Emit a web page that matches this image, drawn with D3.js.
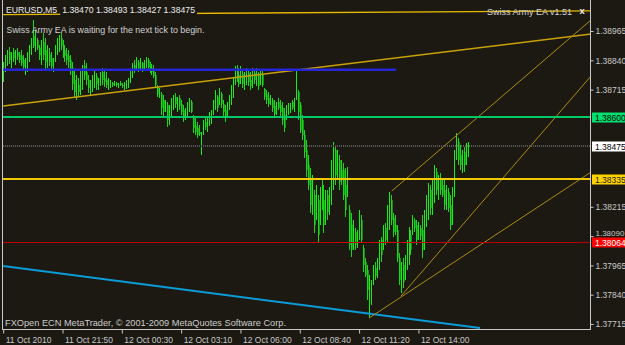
<!DOCTYPE html>
<html><head><meta charset="utf-8">
<script src="https://cdn.jsdelivr.net/npm/d3@7"></script>
<style>
html,body{margin:0;padding:0;background:#1c1912;overflow:hidden;}
svg{display:block;}
text{font-family:"Liberation Sans",Arial,sans-serif;}
</style></head><body>
<svg id="c" width="625" height="345"></svg>
<script>
// ---- DATA (EURUSD M5) ----
const opens=[
1.38764,1.38807,1.38832,1.38875,1.38824,1.38875,1.38841,1.38875,1.38862,1.38858,
1.38841,1.38798,1.38815,1.38850,1.38884,1.38943,1.38901,1.38926,1.38892,1.38850,
1.38918,1.38884,1.38832,1.38867,1.38850,1.38807,1.38850,1.38884,1.38905,1.38935,
1.38905,1.38884,1.38867,1.38858,1.38841,1.38807,1.38756,1.38705,1.38734,1.38713,
1.38764,1.38815,1.38790,1.38756,1.38722,1.38730,1.38756,1.38773,1.38734,1.38756,
1.38790,1.38764,1.38756,1.38730,1.38730,1.38743,1.38734,1.38743,1.38730,1.38743,
1.38734,1.38726,1.38734,1.38743,1.38756,1.38781,1.38820,1.38807,1.38832,1.38807,
1.38828,1.38807,1.38824,1.38841,1.38815,1.38807,1.38798,1.38777,1.38726,1.38692,
1.38696,1.38670,1.38628,1.38649,1.38594,1.38628,1.38658,1.38683,1.38645,1.38679,
1.38653,1.38628,1.38598,1.38619,1.38645,1.38662,1.38598,1.38559,1.38551,1.38534,
1.38466,1.38534,1.38577,1.38551,1.38577,1.38594,1.38619,1.38653,1.38683,1.38662,
1.38696,1.38653,1.38628,1.38606,1.38645,1.38670,1.38713,1.38756,1.38798,1.38777,
1.38747,1.38781,1.38730,1.38764,1.38786,1.38756,1.38734,1.38786,1.38747,1.38781,
1.38739,1.38781,1.38717,1.38696,1.38679,1.38658,1.38670,1.38645,1.38619,1.38662,
1.38649,1.38636,1.38606,1.38594,1.38619,1.38628,1.38662,1.38636,1.38679,1.38705,
1.38649,1.38585,1.38521,1.38457,1.38393,1.38329,1.38210,1.38265,1.38180,1.38244,
1.38158,1.38308,1.38244,1.38158,1.38265,1.38201,1.38265,1.38372,1.38457,1.38350,
1.38414,1.38372,1.38372,1.38308,1.38265,1.38201,1.38137,1.38052,1.38107,1.38052,
1.38094,1.38158,1.38039,1.37979,1.37945,1.37817,1.37839,1.37903,1.37954,1.37924,
1.37967,1.38073,1.38039,1.38124,1.38082,1.38180,1.38244,1.38167,1.38137,1.38116,
1.37996,1.37881,1.37967,1.37911,1.37979,1.38030,1.38094,1.38107,1.38158,1.38137,
1.38082,1.38124,1.38116,1.38052,1.38158,1.38222,1.38286,1.38201,1.38286,1.38363,
1.38265,1.38338,1.38308,1.38286,1.38222,1.38278,1.38222,1.38158,1.38265,1.38436,
1.38491,1.38436,1.38380,1.38449,1.38406,1.38470];
const highs=[
1.38832,1.38862,1.38884,1.38896,1.38875,1.38892,1.38884,1.38892,1.38875,1.38884,
1.38862,1.38850,1.38875,1.38905,1.38935,1.39012,1.38969,1.38935,1.38905,1.38926,
1.38956,1.38935,1.38905,1.38892,1.38875,1.38850,1.38905,1.38935,1.38948,1.38956,
1.38926,1.38905,1.38892,1.38884,1.38862,1.38832,1.38798,1.38777,1.38764,1.38798,
1.38820,1.38841,1.38828,1.38777,1.38756,1.38777,1.38798,1.38786,1.38764,1.38790,
1.38807,1.38798,1.38790,1.38764,1.38756,1.38747,1.38751,1.38747,1.38743,1.38751,
1.38743,1.38747,1.38756,1.38764,1.38798,1.38828,1.38841,1.38854,1.38841,1.38850,
1.38832,1.38841,1.38854,1.38850,1.38832,1.38824,1.38820,1.38790,1.38734,1.38722,
1.38705,1.38692,1.38670,1.38662,1.38649,1.38679,1.38692,1.38700,1.38683,1.38692,
1.38670,1.38649,1.38636,1.38662,1.38679,1.38670,1.38606,1.38594,1.38577,1.38564,
1.38534,1.38585,1.38598,1.38594,1.38619,1.38628,1.38670,1.38713,1.38692,1.38722,
1.38705,1.38670,1.38649,1.38662,1.38692,1.38734,1.38764,1.38815,1.38820,1.38807,
1.38815,1.38798,1.38790,1.38807,1.38798,1.38790,1.38807,1.38798,1.38807,1.38790,
1.38803,1.38798,1.38722,1.38713,1.38705,1.38692,1.38679,1.38670,1.38662,1.38679,
1.38670,1.38662,1.38636,1.38649,1.38658,1.38658,1.38670,1.38679,1.38798,1.38713,
1.38662,1.38606,1.38542,1.38500,1.38436,1.38380,1.38350,1.38286,1.38308,1.38265,
1.38299,1.38338,1.38308,1.38286,1.38286,1.38299,1.38414,1.38491,1.38478,1.38457,
1.38436,1.38414,1.38402,1.38380,1.38385,1.38222,1.38188,1.38158,1.38124,1.38116,
1.38201,1.38180,1.38052,1.37996,1.37967,1.37924,1.37903,1.37967,1.37979,1.37996,
1.38073,1.38086,1.38137,1.38146,1.38222,1.38278,1.38265,1.38188,1.38180,1.38137,
1.38018,1.37979,1.37996,1.38009,1.38073,1.38129,1.38116,1.38180,1.38167,1.38158,
1.38150,1.38137,1.38180,1.38201,1.38265,1.38316,1.38308,1.38329,1.38393,1.38380,
1.38350,1.38359,1.38338,1.38329,1.38308,1.38295,1.38265,1.38299,1.38457,1.38530,
1.38508,1.38478,1.38457,1.38470,1.38487,1.38493];
const lows=[
1.38747,1.38790,1.38815,1.38824,1.38807,1.38832,1.38820,1.38841,1.38828,1.38815,
1.38798,1.38777,1.38790,1.38832,1.38862,1.38892,1.38875,1.38884,1.38841,1.38820,
1.38841,1.38798,1.38807,1.38815,1.38798,1.38790,1.38832,1.38862,1.38875,1.38884,
1.38850,1.38832,1.38820,1.38807,1.38777,1.38713,1.38679,1.38670,1.38683,1.38692,
1.38713,1.38756,1.38734,1.38700,1.38692,1.38705,1.38722,1.38713,1.38713,1.38730,
1.38734,1.38726,1.38722,1.38713,1.38722,1.38726,1.38730,1.38726,1.38722,1.38730,
1.38722,1.38713,1.38717,1.38722,1.38743,1.38764,1.38786,1.38798,1.38790,1.38798,
1.38790,1.38798,1.38807,1.38798,1.38786,1.38777,1.38764,1.38722,1.38683,1.38679,
1.38606,1.38598,1.38619,1.38555,1.38564,1.38594,1.38628,1.38636,1.38619,1.38628,
1.38606,1.38577,1.38585,1.38594,1.38619,1.38615,1.38530,1.38521,1.38508,1.38517,
1.38436,1.38521,1.38542,1.38534,1.38559,1.38568,1.38606,1.38628,1.38619,1.38649,
1.38636,1.38594,1.38577,1.38598,1.38628,1.38649,1.38679,1.38734,1.38747,1.38726,
1.38739,1.38722,1.38713,1.38734,1.38730,1.38713,1.38722,1.38739,1.38730,1.38713,
1.38734,1.38726,1.38670,1.38653,1.38641,1.38649,1.38619,1.38594,1.38606,1.38628,
1.38602,1.38564,1.38534,1.38585,1.38606,1.38615,1.38628,1.38619,1.38670,1.38585,
1.38530,1.38500,1.38423,1.38342,1.38286,1.38188,1.38180,1.38103,1.38158,1.38060,
1.38137,1.38201,1.38103,1.38137,1.38158,1.38180,1.38222,1.38286,1.38308,1.38329,
1.38286,1.38308,1.38244,1.38171,1.38257,1.38030,1.38001,1.38030,1.38030,1.38039,
1.38073,1.38060,1.37937,1.37915,1.37817,1.37740,1.37796,1.37881,1.37903,1.37911,
1.37945,1.37979,1.38030,1.38052,1.38060,1.38116,1.38137,1.38086,1.38094,1.37979,
1.37881,1.37847,1.37868,1.37903,1.37945,1.37967,1.38009,1.38094,1.38107,1.38052,
1.38073,1.38073,1.37996,1.38030,1.38129,1.38158,1.38180,1.38180,1.38231,1.38265,
1.38244,1.38265,1.38257,1.38201,1.38201,1.38193,1.38116,1.38137,1.38257,1.38414,
1.38393,1.38372,1.38359,1.38363,1.38393,1.38427];
const closes=[
1.38815,1.38850,1.38867,1.38841,1.38858,1.38850,1.38871,1.38854,1.38841,1.38828,
1.38811,1.38832,1.38862,1.38892,1.38918,1.38901,1.38926,1.38892,1.38862,1.38905,
1.38862,1.38832,1.38862,1.38832,1.38815,1.38841,1.38892,1.38918,1.38926,1.38901,
1.38875,1.38858,1.38841,1.38832,1.38798,1.38739,1.38705,1.38734,1.38705,1.38773,
1.38807,1.38777,1.38756,1.38722,1.38739,1.38764,1.38777,1.38739,1.38756,1.38781,
1.38756,1.38747,1.38734,1.38747,1.38743,1.38734,1.38743,1.38734,1.38739,1.38734,
1.38730,1.38739,1.38747,1.38756,1.38790,1.38820,1.38798,1.38841,1.38798,1.38832,
1.38798,1.38828,1.38841,1.38811,1.38798,1.38790,1.38773,1.38734,1.38696,1.38705,
1.38636,1.38619,1.38653,1.38585,1.38636,1.38670,1.38679,1.38653,1.38670,1.38645,
1.38619,1.38594,1.38628,1.38653,1.38670,1.38619,1.38551,1.38534,1.38521,1.38525,
1.38525,1.38568,1.38555,1.38585,1.38606,1.38619,1.38658,1.38692,1.38636,1.38705,
1.38653,1.38619,1.38594,1.38645,1.38679,1.38722,1.38756,1.38798,1.38764,1.38739,
1.38790,1.38739,1.38773,1.38790,1.38747,1.38730,1.38790,1.38756,1.38790,1.38730,
1.38786,1.38734,1.38683,1.38670,1.38653,1.38679,1.38636,1.38611,1.38649,1.38636,
1.38619,1.38585,1.38551,1.38636,1.38645,1.38649,1.38636,1.38670,1.38705,1.38619,
1.38542,1.38521,1.38449,1.38372,1.38308,1.38222,1.38308,1.38137,1.38265,1.38094,
1.38265,1.38222,1.38137,1.38244,1.38193,1.38278,1.38393,1.38466,1.38350,1.38423,
1.38321,1.38329,1.38265,1.38201,1.38350,1.38052,1.38030,1.38116,1.38052,1.38094,
1.38180,1.38073,1.37967,1.37924,1.37860,1.37894,1.37881,1.37945,1.37920,1.37979,
1.38052,1.38009,1.38116,1.38073,1.38201,1.38252,1.38158,1.38107,1.38107,1.37996,
1.37903,1.37945,1.37894,1.37988,1.38052,1.38107,1.38030,1.38158,1.38124,1.38073,
1.38133,1.38090,1.38030,1.38180,1.38244,1.38295,1.38210,1.38308,1.38372,1.38286,
1.38329,1.38286,1.38265,1.38222,1.38278,1.38210,1.38137,1.38265,1.38436,1.38500,
1.38414,1.38393,1.38436,1.38393,1.38470,1.38475];

const timeLabels=["11 Oct 2010","11 Oct 21:50","12 Oct 00:30","12 Oct 03:10","12 Oct 06:00","12 Oct 08:40","12 Oct 11:20","12 Oct 14:00"];
const timeLabelIndex=[0,30,60,90,120,150,180,210];
const priceTicks=[1.38965,1.38840,1.38715,1.38215,1.38090,1.37965,1.37840,1.37715];

const levelNames=["green","bid","yellow","red"];
const levelPrices=[1.38600,1.38475,1.38335,1.38064];

const trendNames=["top","main","blueH","cyan","fanA","fanB","fanC"];
const trendI0=[0,0,0,0,185,201.2,196.5];
const trendP0=[1.39035,1.38645,1.38800,1.37962,1.37740,1.37834,1.38282];
const trendI1=[297.3,297.3,198.7,241.2,297.3,297.3,297.3];
const trendP1=[1.39051,1.38952,1.38800,1.37698,1.38363,1.38773,1.39012];

const symbol="EURUSD,M5";
const lastOHLC=[1.38470,1.38493,1.38427,1.38475];

// ---- STYLES ----
const BG="#1c1912";
const trendStyle={
  top:{c:"#e4b800",w:1.4},
  main:{c:"#c9a20a",w:1.6},
  blueH:{c:"#2626d6",w:2.4},
  cyan:{c:"#0b9bd8",w:2},
  fanA:{c:"#a98d12",w:1},
  fanB:{c:"#a98d12",w:1},
  fanC:{c:"#a98d12",w:1}
};
const levelStyle={
  green:{c:"#00c864",w:1.2,dash:null,box:"#00e070",txt:"#000"},
  bid:{c:"#585858",w:2,dash:"1,1",box:"#ffffff",txt:"#000"},
  yellow:{c:"#f2c800",w:2.2,dash:null,box:"#ffd200",txt:"#222"},
  red:{c:"#c00000",w:1,dash:null,box:"#ff0000",txt:"#fff"}
};

const W=625,H=345;
const plotL=3,plotR=591,plotT=0,plotB=330;
const svg=d3.select("#c");
const x=d3.scaleLinear().domain([0,297.3]).range([3.2,591]);
const y=d3.scaleLinear().domain([1.37715,1.38965]).range([324,31]);

svg.append("rect").attr("width",W).attr("height",H).attr("fill",BG);
const defs=svg.append("defs");
defs.append("clipPath").attr("id","clip")
  .append("rect").attr("x",plotL).attr("y",plotT).attr("width",plotR-plotL).attr("height",plotB-plotT);

const plot=svg.append("g").attr("clip-path","url(#clip)");

// candles: 1px lime range line, bear bodies add a darker green column
const idx=d3.range(opens.length);
const cg=plot.append("g").attr("shape-rendering","crispEdges");
const bears=idx.filter(i=>closes[i]<opens[i]);
cg.selectAll("rect.body").data(bears).join("rect")
  .attr("x",i=>Math.round(x(i))+1)
  .attr("y",i=>Math.round(y(opens[i])))
  .attr("width",1)
  .attr("height",i=>Math.max(1,Math.round(y(closes[i]))-Math.round(y(opens[i]))))
  .attr("fill","#1c8a1c");
cg.selectAll("line.wick").data(idx).join("line")
  .attr("x1",i=>Math.round(x(i))+0.5).attr("x2",i=>Math.round(x(i))+0.5)
  .attr("y1",i=>Math.round(y(highs[i]))).attr("y2",i=>Math.round(y(lows[i])))
  .attr("stroke",i=>closes[i]<opens[i]?"#18d818":"#14f014").attr("stroke-width",1);

// trend lines
plot.selectAll("line.trend").data(trendNames).join("line")
  .attr("x1",(d,k)=>x(trendI0[k])).attr("y1",(d,k)=>y(trendP0[k]))
  .attr("x2",(d,k)=>x(trendI1[k])).attr("y2",(d,k)=>y(trendP1[k]))
  .attr("stroke",d=>trendStyle[d].c).attr("stroke-width",d=>trendStyle[d].w);

// horizontal levels
plot.selectAll("line.level").data(levelNames).join("line")
  .attr("x1",plotL).attr("x2",plotR)
  .attr("y1",(d,k)=>Math.round(y(levelPrices[k]))).attr("y2",(d,k)=>Math.round(y(levelPrices[k])))
  .attr("stroke",d=>levelStyle[d].c).attr("stroke-width",d=>levelStyle[d].w)
  .attr("stroke-dasharray",d=>levelStyle[d].dash)
  .attr("shape-rendering","crispEdges");

// frame
const frame=svg.append("g").attr("stroke","#c8c8c8").attr("stroke-width",1).attr("shape-rendering","crispEdges");
frame.append("line").attr("x1",plotL-0.5).attr("x2",plotL-0.5).attr("y1",0).attr("y2",plotB);
frame.append("line").attr("x1",plotR-0.5).attr("x2",plotR-0.5).attr("y1",0).attr("y2",plotB);
frame.append("line").attr("x1",plotL-0.5).attr("x2",plotR).attr("y1",plotB-0.5).attr("y2",plotB-0.5);

// right axis
const ra=svg.append("g").attr("transform",`translate(${plotR-0.5},0)`)
  .call(d3.axisRight(y).tickValues(priceTicks).tickSize(3).tickPadding(2).tickFormat(d3.format(".5f")));
ra.select(".domain").remove();
ra.selectAll("line").attr("stroke","#c8c8c8");
ra.selectAll("text").attr("fill","#c8c8c8").attr("font-size","8.5px").attr("font-family","Liberation Sans, Arial, sans-serif");
// the 1.38090 label sits just above the red level box
ra.selectAll(".tick").filter(d=>d===1.38090).select("text").attr("dy","-0.05em").attr("font-size","8px");

// level boxes
const lb=svg.append("g");
lb.selectAll("rect").data(levelNames).join("rect")
  .attr("x",plotR+1).attr("y",(d,k)=>Math.round(y(levelPrices[k]))-4.5).attr("width",W-plotR).attr("height",10)
  .attr("fill",d=>levelStyle[d].box);
lb.selectAll("text").data(levelNames).join("text")
  .attr("x",plotR+4).attr("y",(d,k)=>Math.round(y(levelPrices[k]))+3.6)
  .attr("font-size","8.5px").attr("fill",d=>levelStyle[d].txt)
  .text((d,k)=>d3.format(".5f")(levelPrices[k]));

// bottom axis
const ba=svg.append("g").attr("transform",`translate(0,${plotB-0.5})`)
  .call(d3.axisBottom(x).tickValues(timeLabelIndex).tickSize(4).tickFormat((d,k)=>timeLabels[k]));
ba.select(".domain").remove();
ba.selectAll("line").attr("stroke","#c8c8c8");
ba.selectAll("text").attr("fill","#c8c8c8").attr("font-size","8.5px").attr("font-family","Liberation Sans, Arial, sans-serif")
  .attr("text-anchor","start").attr("dx","2").attr("y",13).attr("dy",0);

// header texts
const hdr=svg.append("g").attr("font-size","8.7px");
const t1=hdr.append("text").attr("x",6).attr("y",13).attr("fill","#ececec").text(symbol);
const w1=t1.node().getComputedTextLength();
const ohlcStr=lastOHLC.map(d3.format(".5f")).join(" ");
const bgRect=hdr.append("rect");
const t2=hdr.append("text").attr("x",6+w1+5).attr("y",13).attr("fill","#ececec").text(ohlcStr);
const w2=t2.node().getComputedTextLength();
bgRect.attr("x",6+w1+3).attr("y",4).attr("width",w2+4).attr("height",11).attr("fill",BG);

svg.append("text").attr("x",6.5).attr("y",33.3).attr("font-size","9px").attr("fill","#d2d2d2")
  .attr("textLength",198).attr("lengthAdjust","spacingAndGlyphs")
  .text("Swiss Army EA is waiting for the next tick to begin.");
svg.append("text").attr("x",572).attr("y",15).attr("text-anchor","end").attr("font-size","9px").attr("fill","#d6d6d6")
  .text("Swiss Army EA v1.51");
svg.append("text").attr("x",579.5).attr("y",14).attr("font-size","9.5px").attr("font-weight","bold").attr("fill","#e8e8e8")
  .text("x");
svg.append("text").attr("x",5).attr("y",326).attr("font-size","9px").attr("fill","#cccccc")
  .attr("textLength",281).attr("lengthAdjust","spacingAndGlyphs")
  .text("FXOpen ECN MetaTrader, © 2001-2009 MetaQuotes Software Corp.");
</script>
</body></html>
